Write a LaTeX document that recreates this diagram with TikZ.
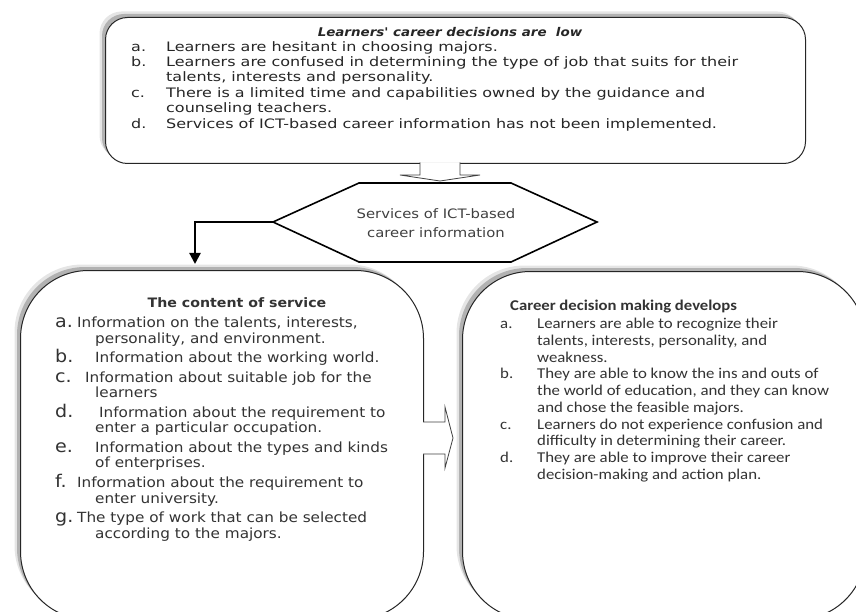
\documentclass[tikz,border=0pt]{standalone}
\usepackage{fontspec}
\setmainfont{DejaVu Sans}
\newfontfamily\topf[FakeStretch=1.23]{DejaVu Sans}
\newfontfamily\titlef[FakeStretch=1.12]{DejaVu Sans}
\newfontfamily\leftf[FakeStretch=1.09]{DejaVu Sans}
\newfontfamily\hexf[FakeStretch=1.14]{DejaVu Sans}
\newfontfamily\rightf[FakeStretch=1.12]{Carlito}
\usetikzlibrary{shadows,arrows.meta}
\tikzset{
  boxshape/.style={draw=black!85, line width=1pt, fill=white, inner sep=0pt, anchor=north west,
    general shadow={shadow xshift=-6pt,shadow yshift=6pt,fill=black!10},
    general shadow={shadow xshift=-3.5pt,shadow yshift=3.5pt,fill=black!30}},
  ttxt/.style={anchor=base west, inner sep=0pt, text=black!85, font=\topf\fontsize{13}{14}\selectfont},
  ltxt/.style={anchor=base west, inner sep=0pt, text=black!80, font=\leftf\fontsize{14}{15}\selectfont},
  llab/.style={anchor=base west, inner sep=0pt, text=black!80, font=\leftf\fontsize{17.5}{17}\selectfont},
  rtxt/.style={anchor=base west, inner sep=0pt, text=black!80, font=\rightf\fontsize{15}{16}\selectfont},
  hexline/.style={draw=black, line width=1.6pt, line join=miter},
  outarrow/.style={draw=black!75, line width=0.8pt, fill=white, line join=miter},
}
\begin{document}
\begin{tikzpicture}[x=1pt,y=-1pt]
\useasboundingbox (0,0) rectangle (856,612);
\clip (0,0) rectangle (856,612);

% boxes
\node[boxshape, rounded corners=22pt, minimum width=700pt, minimum height=146pt] (topbox) at (105,17) {};
\node[boxshape, rounded corners=68pt, minimum width=403pt, minimum height=349pt] (leftbox) at (20,270) {};
\node[boxshape, rounded corners=68pt, minimum width=403pt, minimum height=348pt] (rightbox) at (462,271) {};

% top box text
\node[ttxt, anchor=base, font=\titlef\bfseries\itshape\fontsize{12}{14}\selectfont] (t0) at (450,37) {Learners' career decisions are\ \ low};
\node[ttxt] (ta) at (131,52) {a.};
\node[ttxt] (tat) at (166,52) {Learners are hesitant in choosing majors.};
\node[ttxt] (tb) at (131,67) {b.};
\node[ttxt] (tbt) at (166,67) {Learners are confused in determining the type of job that suits for their};
\node[ttxt] (tbt2) at (166,82) {talents, interests and personality.};
\node[ttxt] (tc) at (131,97.5) {c.};
\node[ttxt] (tct) at (166,97.5) {There is a limited time and capabilities owned by the guidance and};
\node[ttxt] (tct2) at (166,113) {counseling teachers.};
\node[ttxt] (td) at (131,128.5) {d.};
\node[ttxt] (tdt) at (166,128.5) {Services of ICT-based career information has not been implemented.};

% small outline arrow from top box to hexagon
\coordinate (sa1) at (420,162.5);
\coordinate (sa2) at (460,162.5);
\draw[outarrow] (sa1) -- (420,175) -- (400,175) -- (440,181) -- (480,175) -- (460,175) -- (sa2);

% hexagon
\coordinate (hexL) at (273,222);
\draw[hexline, fill=white] (hexL) -- (359,183) -- (511,183) -- (597,222) -- (511,262) -- (359,262) -- cycle;
\node[align=center, inner sep=0pt, text=black!75, font=\hexf\fontsize{13}{19}\selectfont] (hex) at (436,223) {Services of ICT-based\\career information};

% black elbow arrow
\coordinate (arrEnd) at (195,264);
\draw[line width=2.2pt, -{Triangle[length=11pt,width=11pt]}] (hexL) -- (195,222) -- (arrEnd);

% left box text
\node[ltxt, anchor=base, font=\leftf\bfseries\fontsize{13}{14}\selectfont] (l0) at (237,307) {The content of service};
\node[llab] (la) at (55,327) {a.};
\node[ltxt] (lat) at (77,327) {Information on the talents, interests,};
\node[ltxt] (lat2) at (95,343) {personality, and environment.};
\node[llab] (lb) at (55,362) {b.};
\node[ltxt] (lbt) at (95,362) {Information about the working world.};
\node[llab] (lc) at (55,382) {c.};
\node[ltxt] (lct) at (85,382) {Information about suitable job for the};
\node[ltxt] (lct2) at (95,397) {learners};
\node[llab] (ld) at (55,417) {d.};
\node[ltxt] (ldt) at (99,417) {Information about the requirement to};
\node[ltxt] (ldt2) at (95,432) {enter a particular occupation.};
\node[llab] (le) at (55,452) {e.};
\node[ltxt] (let) at (95,452) {Information about the types and kinds};
\node[ltxt] (let2) at (95,467) {of enterprises.};
\node[llab] (lf) at (55,487) {f.};
\node[ltxt] (lft) at (77,487) {Information about the requirement to};
\node[ltxt] (lft2) at (95,503) {enter university.};
\node[llab] (lg) at (55,522) {g.};
\node[ltxt] (lgt) at (77,522) {The type of work that can be selected};
\node[ltxt] (lgt2) at (95,538) {according to the majors.};

% right box text
\node[rtxt, font=\rightf\bfseries\fontsize{14.9}{16}\selectfont] (r0) at (510,310) {Career decision making develops};
\node[rtxt] (ra) at (500,328) {a.};
\node[rtxt] (rat) at (537,328) {Learners are able to recognize their};
\node[rtxt] (rat2) at (537,345) {talents, interests, personality, and};
\node[rtxt] (rat3) at (537,362) {weakness.};
\node[rtxt] (rb) at (500,378) {b.};
\node[rtxt] (rbt) at (537,378) {They are able to know the ins and outs of};
\node[rtxt] (rbt2) at (537,395) {the world of education, and they can know};
\node[rtxt] (rbt3) at (537,412) {and chose the feasible majors.};
\node[rtxt] (rc) at (500,429) {c.};
\node[rtxt] (rct) at (537,429) {Learners do not experience confusion and};
\node[rtxt] (rct2) at (537,445) {difficulty in determining their career.};
\node[rtxt] (rd) at (500,462) {d.};
\node[rtxt] (rdt) at (537,462) {They are able to improve their career};
\node[rtxt] (rdt2) at (537,479) {decision-making and action plan.};

% big outline arrow between the two lower boxes
\draw[outarrow] (423,422) -- (445,422) -- (445,407) -- (453,438) -- (445,468) -- (445,454) -- (423,454);
\end{tikzpicture}
\end{document}
